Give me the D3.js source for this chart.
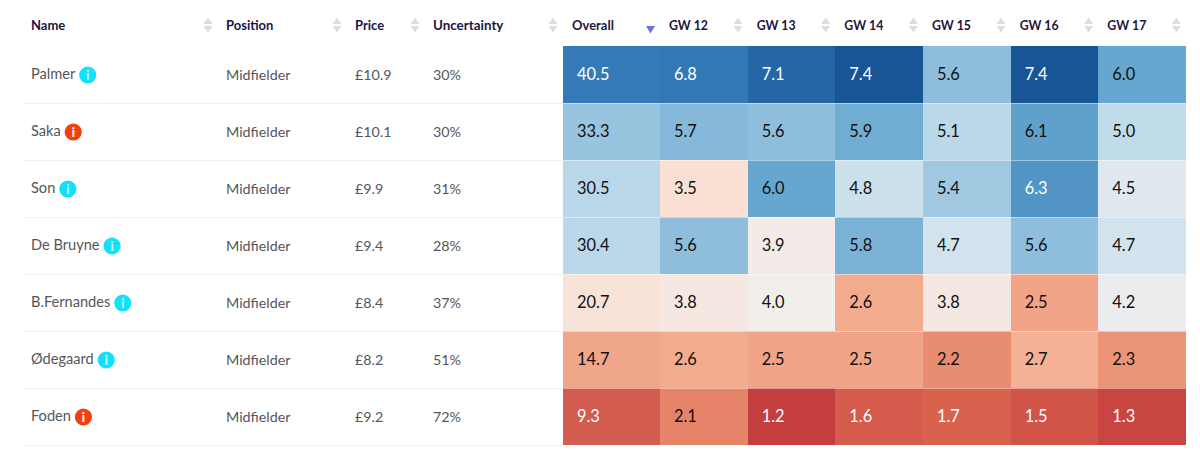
<!DOCTYPE html>
<html><head><meta charset="utf-8">
<style>
html,body{margin:0;padding:0;background:#fff;overflow:hidden}
text{font-family:Lato,"Open Sans",sans-serif}
</style>
<script src="https://cdn.jsdelivr.net/npm/d3@7"></script>
</head><body><svg id="c" width="1200" height="450"></svg>
<script>
const names=["Palmer","Saka","Son","De Bruyne","B.Fernandes","Ødegaard","Foden"];
const flags=["ok","warn","ok","ok","ok","ok","warn"];
const positions=["Midfielder","Midfielder","Midfielder","Midfielder","Midfielder","Midfielder","Midfielder"];
const prices=["£10.9","£10.1","£9.9","£9.4","£8.4","£8.2","£9.2"];
const uncertainty=["30%","30%","31%","28%","37%","51%","72%"];
const overall=[40.5,33.3,30.5,30.4,20.7,14.7,9.3];
const gwLabels=["GW 12","GW 13","GW 14","GW 15","GW 16","GW 17"];
const gw12=[6.8,5.7,3.5,5.6,3.8,2.6,2.1];
const gw13=[7.1,5.6,6.0,3.9,4.0,2.5,1.2];
const gw14=[7.4,5.9,4.8,5.8,2.6,2.5,1.6];
const gw15=[5.6,5.1,5.4,4.7,3.8,2.2,1.7];
const gw16=[7.4,6.1,6.3,5.6,2.5,2.7,1.5];
const gw17=[6.0,5.0,4.5,4.7,4.2,2.3,1.3];
const gwSeries=[gw12,gw13,gw14,gw15,gw16,gw17];
const gwStops=[1.2,1.7,2.2,2.6,3.5,4.0,4.5,5.1,5.6,6.0,6.8,7.4];
const gwColors=["#c43e3f","#d9624f","#e98d70","#f3ab8e","#f9e0d3","#f2eeec","#e0e9f0","#bad8e8","#8fbedc","#66a7cf","#3278b4","#185595"];
const ovStops=[9.3,14.7,20.7,30.4,33.3,40.5];
const ovColors=["#d25c50","#f0a68a","#f8e3d8","#bad8e9","#97c4de","#347ab6"];

const gwColor=d3.scaleLinear().domain(gwStops).range(gwColors);
const ovColor=d3.scaleLinear().domain(ovStops).range(ovColors);
const y=d3.scaleBand().domain(names).range([46,445]);
const gwX=d3.scaleBand().domain(gwLabels).range([660,1186]);
const ovLeft=563;
const svg=d3.select("#c");
const gwInk=v=>(v<2||v>6.2)?"#fff":"#111";
const ovInk=v=>(v<10||v>38)?"#fff":"#111";

// header
const hdr="#1d1440";
const headers=[["Name",31,208,13],["Position",226,337,13],["Price",355,415,13],["Uncertainty",433,553,13.4],["Overall",572,null,13]];
gwLabels.forEach(g=>headers.push([g,gwX(g)+9,gwX(g)+78,12.3]));
const hg=svg.append("g");
hg.selectAll("text").data(headers).join("text").attr("x",d=>d[1]).attr("y",29.5)
 .attr("font-size",d=>d[3]).attr("font-weight",700).attr("fill",hdr).text(d=>d[0]);
headers.filter(d=>d[2]!==null).forEach(d=>{
 hg.append("path").attr("d",`M${d[2]-4.5},24 L${d[2]},17.5 L${d[2]+4.5},24 Z`).attr("fill","#dcdde0");
 hg.append("path").attr("d",`M${d[2]-4.5},26 L${d[2]},32.5 L${d[2]+4.5},26 Z`).attr("fill","#dcdde0");
});
hg.append("path").attr("d","M646,26 L650.5,33.5 L655,26 Z").attr("fill","#6f74d2");

// text columns
const body="#55565c";
[[positions,226],[prices,355],[uncertainty,433]].forEach(([arr,x])=>{
 svg.append("g").selectAll("text").data(arr).join("text")
  .attr("x",x).attr("y",(d,i)=>y(names[i])+y.bandwidth()/2+5)
  .attr("font-size",14.3).attr("fill",body).text(d=>d);
});
svg.append("g").selectAll("g").data(names).join("g").each(function(d,i){
 const g=d3.select(this), cy=y(d)+y.bandwidth()/2;
 const t=g.append("text").attr("x",31).attr("y",cy+4).attr("font-size",14.6).attr("fill",body).text(d);
 const cx=31+t.node().getComputedTextLength()+12.5;
 g.append("circle").attr("cx",cx).attr("cy",cy+0.5).attr("r",8.6).attr("fill",flags[i]==="ok"?"#14e0fa":"#f5400c");
 g.append("text").attr("x",cx).attr("y",cy+5.2).attr("text-anchor","middle").attr("font-size",12.5).attr("font-weight",900).attr("fill",flags[i]==="ok"?"#bff6fd":"#fff").text("i");
});

// heatmap
const ov=svg.append("g");
ov.selectAll("rect").data(overall).join("rect")
 .attr("x",ovLeft).attr("y",(d,i)=>y(names[i])).attr("width",gwX.range()[0]-ovLeft).attr("height",y.bandwidth())
 .attr("shape-rendering","crispEdges").attr("fill",d=>ovColor(d));
ov.selectAll("text").data(overall).join("text")
 .attr("x",ovLeft+14).attr("y",(d,i)=>y(names[i])+y.bandwidth()/2+5.5)
 .attr("font-size",16.4).attr("fill",d=>ovInk(d)).text(d=>d.toFixed(1));
gwSeries.forEach((s,k)=>{
 const g=svg.append("g"), x=gwX(gwLabels[k]);
 g.selectAll("rect").data(s).join("rect")
  .attr("x",x).attr("y",(d,i)=>y(names[i])).attr("width",gwX.bandwidth()).attr("height",y.bandwidth())
  .attr("shape-rendering","crispEdges").attr("fill",d=>gwColor(d));
 g.selectAll("text").data(s).join("text")
  .attr("x",x+14).attr("y",(d,i)=>y(names[i])+y.bandwidth()/2+5.5)
  .attr("font-size",16.4).attr("fill",d=>gwInk(d)).text(d=>d.toFixed(1));
});

// row separators, drawn over the cells
const sep=svg.append("g");
sep.selectAll("line.a").data(names).join("line").attr("class","a")
 .attr("x1",24).attr("x2",563).attr("y1",d=>y(d)+y.bandwidth()+0.5).attr("y2",d=>y(d)+y.bandwidth()+0.5)
 .attr("stroke","#eff0f2");
sep.selectAll("line.b").data(names).join("line").attr("class","b")
 .attr("x1",563).attr("x2",1186).attr("y1",d=>y(d)+y.bandwidth()+0.5).attr("y2",d=>y(d)+y.bandwidth()+0.5)
 .attr("stroke","#fff").attr("stroke-opacity",0.45);
</script></body></html>
